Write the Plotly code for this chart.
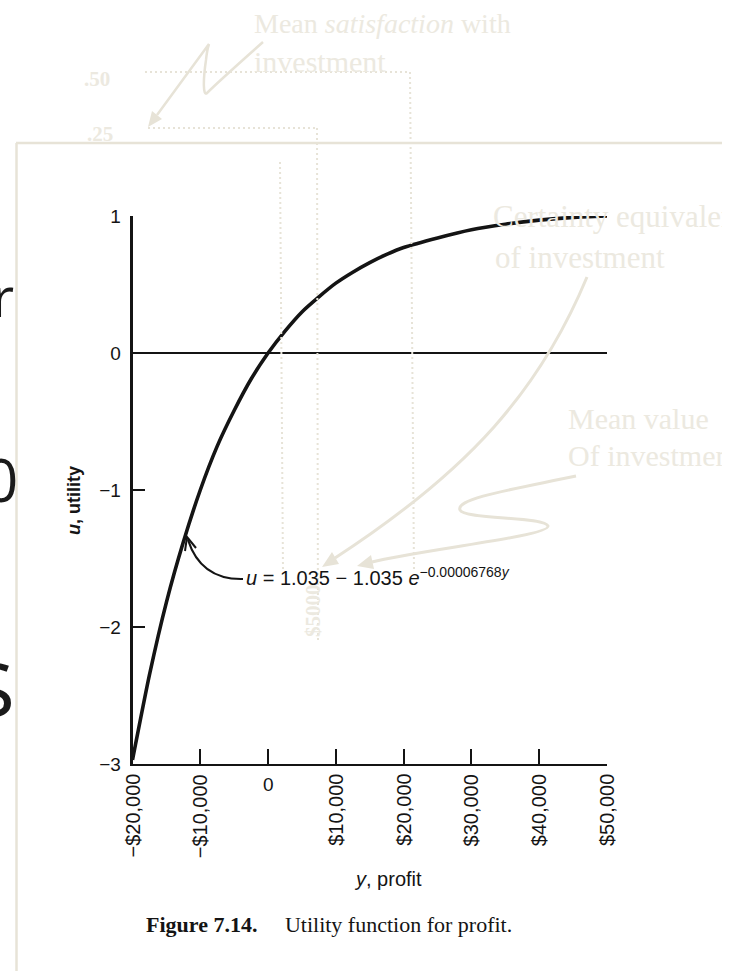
import plotly.graph_objects as go

# ---------------- data ----------------
PROFIT = [-20000, -17500, -15000, -12500, -10000, -7500, -5000, -2500, 0,
          2500, 5000, 7500, 10000, 12500, 15000, 17500, 20000,
          25000, 30000, 35000, 40000, 45000, 50000]
UTILITY = [-2.97, -2.35, -1.82, -1.38, -1.00, -0.68, -0.42, -0.19, 0.00,
           0.16, 0.30, 0.41, 0.51, 0.59, 0.66, 0.72, 0.77,
           0.84, 0.90, 0.94, 0.97, 0.99, 1.00]

X_TICK_VALUES = [-20000, -10000, 0, 10000, 20000, 30000, 40000, 50000]
X_TICK_LABELS = ["\u2212$20,000", "\u2212$10,000", "0", "$10,000", "$20,000",
                 "$30,000", "$40,000", "$50,000"]
Y_TICK_VALUES = [1, 0, -1, -2, -3]
Y_TICK_LABELS = ["1", "0", "\u22121", "\u22122", "\u22123"]
X_RANGE = [-20000, 50000]
Y_RANGE = [-3, 1]

EQUATION = "<i>u</i> = 1.035 \u2212 1.035 <i>e</i><sup>\u22120.00006768<i>y</i></sup>"
X_TITLE = "<i>y</i>, profit"
Y_TITLE = "<b><i>u</i>, utility</b>"
CAPTION = "<b>Figure 7.14.</b>\u00a0\u00a0\u00a0\u00a0\u00a0Utility function for profit."

OVERLAY_LINES = ["Certainty equivalent", "of investment", "Mean value", "Of investment"]
TOP_LINES = ["Mean <i>satisfaction</i> with", "investment"]
LEVEL_LABELS = [".50", ".25"]
AMOUNT_LABEL = "$5000"
SLIDE_GLYPHS = ["r", "0", "$"]

# ---------------- page geometry (pixels) ----------------
W, H = 738, 971
PL, PR, PT, PB = 132.5, 607, 216, 764
FL, FR, FT = 16, 722, 143

BEIGE_TXT = "#ECE9E0"
BEIGE_LN = "#E7E3D7"
INK = "#141414"


def fx(x):
    return x / W


def fy(y):
    return 1 - y / H


def pt(x, y):
    return f"{fx(x):.5f},{fy(y):.5f}"


def note(text, x, y, size, family="Liberation Sans", color=INK, xa="center", ya="middle", angle=0):
    return dict(text=text, xref="paper", yref="paper", x=fx(x), y=fy(y), xanchor=xa, yanchor=ya,
                textangle=angle, showarrow=False, font=dict(family=family, size=size, color=color))


fig = go.Figure()

# utility curve
fig.add_trace(go.Scatter(x=PROFIT, y=UTILITY, mode="lines",
                         line=dict(color=INK, width=3.6, shape="spline", smoothing=0.6),
                         hoverinfo="skip", showlegend=False))

# beige overlay texts clipped by the frame (second subplot in pixel units)
ov_x = [493, 495, 568, 568]
ov_base = [229, 270, 431, 468]
ov_size = [31, 31, 30, 30]
for t, x, b, s in zip(OVERLAY_LINES, ov_x, ov_base, ov_size):
    fig.add_trace(go.Scatter(x=[x], y=[b - 0.33 * s], mode="text", text=[t],
                             textposition="middle right",
                             textfont=dict(family="Liberation Serif", size=s, color=BEIGE_TXT),
                             xaxis="x2", yaxis="y2", hoverinfo="skip", showlegend=False,
                             cliponaxis=True))

shapes = []
# frame
shapes.append(dict(type="line", xref="paper", yref="paper", x0=fx(FL), y0=fy(FT), x1=fx(FR), y1=fy(FT),
                   line=dict(color=BEIGE_LN, width=2.5), layer="above"))
shapes.append(dict(type="line", xref="paper", yref="paper", x0=fx(FL + 0.5), y0=fy(FT), x1=fx(FL + 0.5), y1=fy(H + 5),
                   line=dict(color=BEIGE_LN, width=2.5), layer="above"))

# dotted guide lines
dot = dict(color=BEIGE_LN, width=2, dash="2px,3px")
for (x0, y0, x1, y1) in [(145, 72, 408, 72), (410, 72, 414, 572),
                         (148, 128, 316, 128), (317, 128, 318, 640),
                         (280, 162, 283, 572)]:
    shapes.append(dict(type="line", xref="paper", yref="paper", x0=fx(x0), y0=fy(y0), x1=fx(x1), y1=fy(y1),
                       line=dict(dot), layer="above"))

# beige arrows
arrow_line = dict(color=BEIGE_LN, width=3)
shapes.append(dict(type="path", xref="paper", yref="paper", layer="above", line=arrow_line,
                   path=f"M{pt(587,277)} C{pt(540,390)} {pt(470,470)} {pt(335,558)}"))
shapes.append(dict(type="path", xref="paper", yref="paper", layer="above", line=dict(width=0),
                   fillcolor=BEIGE_LN,
                   path=f"M{pt(322,567)} L{pt(339,564)} L{pt(332,552)} Z"))
shapes.append(dict(type="path", xref="paper", yref="paper", layer="above", line=arrow_line,
                   path=(f"M{pt(576,476)} C{pt(520,488)} {pt(455,498)} {pt(460,510)} "
                         f"C{pt(464,520)} {pt(545,516)} {pt(548,526)} "
                         f"C{pt(550,536)} {pt(420,550)} {pt(372,562)}")))
shapes.append(dict(type="path", xref="paper", yref="paper", layer="above", line=dict(width=0),
                   fillcolor=BEIGE_LN,
                   path=f"M{pt(357,566)} L{pt(374,569)} L{pt(371,555)} Z"))
shapes.append(dict(type="path", xref="paper", yref="paper", layer="above", line=dict(color=BEIGE_LN, width=2.5),
                   path=(f"M{pt(263,42)} C{pt(245,58)} {pt(215,85)} {pt(207,93)} "
                         f"C{pt(203,97)} {pt(203,80)} {pt(206,60)} "
                         f"C{pt(207,50)} {pt(209,44)} {pt(209,44)} L{pt(157,115)}")))
shapes.append(dict(type="path", xref="paper", yref="paper", layer="above", line=dict(width=0),
                   fillcolor=BEIGE_LN,
                   path=f"M{pt(148,127)} L{pt(162,119)} L{pt(152,111)} Z"))

# black curved pointer from equation to the curve
shapes.append(dict(type="path", xref="paper", yref="paper", layer="above", line=dict(color=INK, width=2.2),
                   path=f"M{pt(243,579)} Q{pt(201,580)} {pt(188,540)}"))
shapes.append(dict(type="path", xref="paper", yref="paper", layer="above", line=dict(color=INK, width=2),
                   path=f"M{pt(196,548)} L{pt(187,537)} L{pt(185,551)}"))

ann = []
# big slide text behind the frame (left edge)
for g, xr, yc, sz in zip(SLIDE_GLYPHS, [16, 20, 18], [296, 479, 688], [54, 60, 88]):
    ann.append(note(g, xr, yc, sz, family="Open Sans", color="#1a1a1a", xa="right"))

# x tick labels
for v, lab in zip(X_TICK_VALUES, X_TICK_LABELS):
    ann.append(dict(text=lab, x=v, xref="x", y=fy(772), yref="paper", xanchor="center",
                    yanchor="top", textangle=0 if lab == "0" else -90, showarrow=False,
                    font=dict(family="Liberation Sans", size=20 if lab != "0" else 19, color=INK)))

# axis titles and caption
ann.append(note(Y_TITLE, 74, 501, 18, angle=-90))
ann.append(note(X_TITLE, 388, 879, 20))
ann.append(note(CAPTION, 144, 924, 22, family="Liberation Serif", xa="left"))

# beige overlay labels (top)
ann.append(note(TOP_LINES[0], 252, 23, 28, family="Liberation Serif", color=BEIGE_TXT, xa="left"))
ann.append(note(TOP_LINES[1], 252, 61, 30, family="Liberation Serif", color=BEIGE_TXT, xa="left"))
ann.append(note("<b>" + LEVEL_LABELS[0] + "</b>", 97, 79, 21, family="Liberation Serif", color=BEIGE_TXT))
ann.append(note("<b>" + LEVEL_LABELS[1] + "</b>", 100, 134, 21, family="Liberation Serif", color=BEIGE_TXT))
ann.append(note("<b>" + AMOUNT_LABEL + "</b>", 313, 611, 21, family="Liberation Serif", color=BEIGE_TXT, angle=-90))

# equation
ann.append(note(EQUATION, 244, 576, 20, xa="left"))

fig.update_layout(
    width=W, height=H, autosize=False,
    margin=dict(l=0, r=0, t=0, b=0),
    paper_bgcolor="white", plot_bgcolor="rgba(0,0,0,0)",
    showlegend=False,
    xaxis=dict(domain=[fx(PL), fx(PR)], range=X_RANGE, showline=True, linecolor=INK, linewidth=2.2,
               ticks="inside", ticklen=15, tickwidth=2, tickcolor=INK,
               tickvals=X_TICK_VALUES[1:], showticklabels=False, showgrid=False, zeroline=False,
               fixedrange=True, anchor="y", automargin=False),
    yaxis=dict(domain=[fy(PB), fy(PT)], range=Y_RANGE, showline=True, linecolor=INK, linewidth=2.8,
               ticks="inside", ticklen=13, tickwidth=2, tickcolor=INK,
               tickvals=Y_TICK_VALUES, ticktext=Y_TICK_LABELS, ticklabelstandoff=5,
               tickfont=dict(family="Liberation Sans", size=19, color=INK),
               showgrid=False, zeroline=True, zerolinecolor=INK, zerolinewidth=2,
               fixedrange=True, anchor="x", automargin=False),
    xaxis2=dict(domain=[fx(FL), fx(FR)], range=[FL, FR], visible=False, fixedrange=True, anchor="y2"),
    yaxis2=dict(domain=[0, fy(FT)], range=[H, FT], visible=False, fixedrange=True, anchor="x2"),
    shapes=shapes,
    annotations=ann,
)

POST = ("var gd=document.getElementById('{plot_id}');"
        "document.documentElement.style.margin='0';document.documentElement.style.overflow='hidden';"
        "document.body.style.margin='0';document.body.style.padding='0';document.body.style.overflow='hidden';"
        "document.body.style.height='971px';"
        "gd.style.position='fixed';gd.style.top='0px';gd.style.left='0px';")

fig.write_html("out.html", config={"displayModeBar": False}, post_script=POST)
